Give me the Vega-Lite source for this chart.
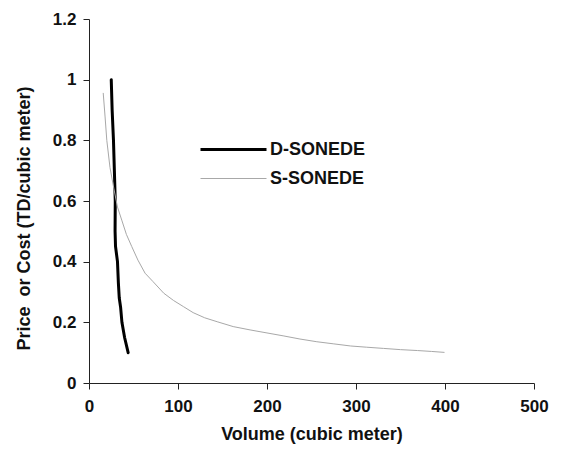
{
  "$schema": "https://vega.github.io/schema/vega-lite/v6.json",
  "width": 445,
  "height": 364,
  "autosize": {"type": "none"},
  "padding": {"left": 89, "top": 19, "right": 27, "bottom": 66},
  "background": "white",
  "config": {
    "view": {"stroke": null},
    "font": "Liberation Sans"
  },
  "data": {
    "values": [
      {"series": "D-SONEDE", "i": 1, "x": 25, "y": 1.0},
      {"series": "D-SONEDE", "i": 2, "x": 26, "y": 0.9},
      {"series": "D-SONEDE", "i": 3, "x": 27.5, "y": 0.8},
      {"series": "D-SONEDE", "i": 4, "x": 28.5, "y": 0.7},
      {"series": "D-SONEDE", "i": 5, "x": 29.5, "y": 0.6},
      {"series": "D-SONEDE", "i": 6, "x": 29.3, "y": 0.5},
      {"series": "D-SONEDE", "i": 7, "x": 29.8, "y": 0.45},
      {"series": "D-SONEDE", "i": 8, "x": 32, "y": 0.4},
      {"series": "D-SONEDE", "i": 9, "x": 33, "y": 0.33},
      {"series": "D-SONEDE", "i": 10, "x": 34, "y": 0.28},
      {"series": "D-SONEDE", "i": 11, "x": 35.5, "y": 0.25},
      {"series": "D-SONEDE", "i": 12, "x": 37, "y": 0.2},
      {"series": "D-SONEDE", "i": 13, "x": 40, "y": 0.15},
      {"series": "D-SONEDE", "i": 14, "x": 44, "y": 0.1},
      {"series": "S-SONEDE", "i": 1, "x": 16, "y": 0.955},
      {"series": "S-SONEDE", "i": 2, "x": 18, "y": 0.88},
      {"series": "S-SONEDE", "i": 3, "x": 20, "y": 0.8},
      {"series": "S-SONEDE", "i": 4, "x": 23.6, "y": 0.71},
      {"series": "S-SONEDE", "i": 5, "x": 28, "y": 0.64},
      {"series": "S-SONEDE", "i": 6, "x": 32, "y": 0.58},
      {"series": "S-SONEDE", "i": 7, "x": 36.8, "y": 0.537},
      {"series": "S-SONEDE", "i": 8, "x": 42, "y": 0.49},
      {"series": "S-SONEDE", "i": 9, "x": 48, "y": 0.45},
      {"series": "S-SONEDE", "i": 10, "x": 55, "y": 0.405},
      {"series": "S-SONEDE", "i": 11, "x": 63, "y": 0.362},
      {"series": "S-SONEDE", "i": 12, "x": 72, "y": 0.334},
      {"series": "S-SONEDE", "i": 13, "x": 84, "y": 0.296},
      {"series": "S-SONEDE", "i": 14, "x": 95, "y": 0.272},
      {"series": "S-SONEDE", "i": 15, "x": 106, "y": 0.252},
      {"series": "S-SONEDE", "i": 16, "x": 117, "y": 0.232},
      {"series": "S-SONEDE", "i": 17, "x": 130, "y": 0.215},
      {"series": "S-SONEDE", "i": 18, "x": 144, "y": 0.202},
      {"series": "S-SONEDE", "i": 19, "x": 162, "y": 0.186},
      {"series": "S-SONEDE", "i": 20, "x": 181, "y": 0.175},
      {"series": "S-SONEDE", "i": 21, "x": 200, "y": 0.165},
      {"series": "S-SONEDE", "i": 22, "x": 219, "y": 0.155},
      {"series": "S-SONEDE", "i": 23, "x": 237, "y": 0.145},
      {"series": "S-SONEDE", "i": 24, "x": 256, "y": 0.136},
      {"series": "S-SONEDE", "i": 25, "x": 275, "y": 0.129},
      {"series": "S-SONEDE", "i": 26, "x": 294, "y": 0.122},
      {"series": "S-SONEDE", "i": 27, "x": 312, "y": 0.118},
      {"series": "S-SONEDE", "i": 28, "x": 331, "y": 0.114},
      {"series": "S-SONEDE", "i": 29, "x": 350, "y": 0.11},
      {"series": "S-SONEDE", "i": 30, "x": 369, "y": 0.107},
      {"series": "S-SONEDE", "i": 31, "x": 385, "y": 0.104},
      {"series": "S-SONEDE", "i": 32, "x": 399, "y": 0.101}
    ]
  },
  "mark": {"type": "line", "strokeCap": "round"},
  "encoding": {
    "x": {
      "field": "x",
      "type": "quantitative",
      "scale": {"domain": [0, 500], "nice": false, "zero": true},
      "axis": {
        "title": "Volume (cubic meter)",
        "values": [0, 100, 200, 300, 400, 500],
        "grid": false,
        "domainColor": "#222",
        "tickColor": "#222",
        "tickSize": 6,
        "labelFontSize": 17,
        "labelFontWeight": "bold",
        "labelColor": "#111",
        "labelPadding": 9,
        "labelFlush": false,
        "titleFontSize": 18,
        "titleFontWeight": "bold",
        "titleColor": "#111",
        "titlePadding": 11
      }
    },
    "y": {
      "field": "y",
      "type": "quantitative",
      "scale": {"domain": [0, 1.2], "nice": false},
      "axis": {
        "title": "Price \u00a0or Cost (TD/cubic meter)",
        "values": [0, 0.2, 0.4, 0.6, 0.8, 1, 1.2],
        "format": "~g",
        "grid": false,
        "domainColor": "#222",
        "tickColor": "#222",
        "tickSize": 6,
        "labelFontSize": 17,
        "labelFontWeight": "bold",
        "labelColor": "#111",
        "labelPadding": 7,
        "labelFlush": false,
        "titleFontSize": 18,
        "titleFontWeight": "bold",
        "titleColor": "#111",
        "titleX": -65,
        "titleY": 199,
        "titleAlign": "center",
        "titleBaseline": "middle",
        "titleAngle": -90
      }
    },
    "color": {
      "field": "series",
      "type": "nominal",
      "scale": {"domain": ["D-SONEDE", "S-SONEDE"], "range": ["#000000", "#a8a8a8"]},
      "legend": {
        "title": null,
        "orient": "none",
        "legendX": 132,
        "legendY": 118,
        "padding": 0,
        "symbolType": "M-3,0H3",
        "symbolSize": 484,
        "labelOffset": 24,
        "rowPadding": 8,
        "labelFontSize": 18,
        "labelFontWeight": "bold",
        "labelColor": "#111",
        "encode": {
          "symbols": {
            "update": {
              "strokeWidth": {"signal": "datum.value === 'D-SONEDE' ? 3 : 1"}
            }
          }
        }
      }
    },
    "strokeWidth": {
      "field": "series",
      "type": "nominal",
      "scale": {"domain": ["D-SONEDE", "S-SONEDE"], "range": [3, 1]},
      "legend": null
    },
    "order": {"field": "i", "type": "quantitative"}
  }
}
